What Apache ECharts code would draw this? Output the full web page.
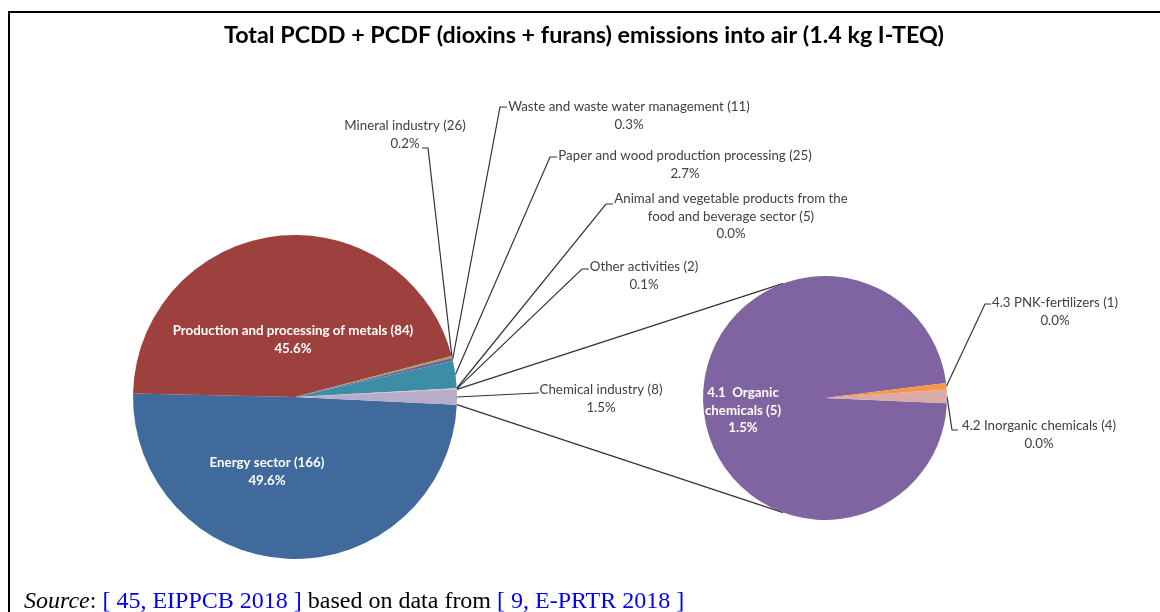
<!DOCTYPE html>
<html>
<head>
<meta charset="utf-8">
<script src="https://cdn.jsdelivr.net/npm/echarts@6/dist/echarts.min.js"></script>
<style>
html, body { margin: 0; padding: 0; background: #fff; }
#chart { width: 1160px; height: 612px; }
</style>
</head>
<body>
<div id="chart"></div>
<script>
// main pie: sectors, number of facilities, share of total emissions (%)
var mainNames = ['Energy sector', 'Production and processing of metals', 'Mineral industry',
	'Waste and waste water management', 'Paper and wood production processing',
	'Animal and vegetable products from the\nfood and beverage sector', 'Other activities', 'Chemical industry'];
var mainCounts = [166, 84, 26, 11, 25, 5, 2, 8];
var mainShares = [49.6, 45.6, 0.2, 0.3, 2.7, 0.02, 0.1, 1.5];

// second pie: split of the chemical industry (share of total emissions, %)
var subNames = ['4.1  Organic\nchemicals', '4.2 Inorganic chemicals', '4.3 PNK-fertilizers'];
var subCounts = [5, 4, 1];
var subShares = [1.46, 0.027, 0.013];

var mainColors = ['#416a9c', '#9e413e', '#8cad4f', '#7a5c9e', '#3b8ea5', '#f79646', '#e6b9b8', '#b8accb'];
var subColors = ['#8064a2', '#d9aaa8', '#f79646'];

// layout (pixels)
var mainC = [295, 397], mainR = 162;
var subC = [825, 398], subR = 122;
var subStart = 7.1;      // degrees, second pie goes counter clockwise
var joinAngle = 110;     // where the connectors meet the second pie
var FONT = 'Lato';
var TXT = '#404040';

// label boxes: x = centre, y = top; elbow/end = leader line bend
var mainLab = [
	{ x: 267, y: 454, inside: true },
	{ x: 293, y: 322, inside: true },
	{ x: 405, y: 117, elbow: [428, 148], end: [422, 148] },
	{ x: 629, y: 98, elbow: [500, 107], end: [507, 107] },
	{ x: 685, y: 147, elbow: [550, 157], end: [557, 157] },
	{ x: 731, y: 190, elbow: [606, 204], end: [613, 204] },
	{ x: 644, y: 258, elbow: [582, 269], end: [589, 269] },
	{ x: 601, y: 381, elbow: [537, 393], end: [539, 393] }
];
var subLab = [
	{ x: 743, y: 384, inside: true },
	{ x: 1039, y: 417, elbow: [952, 430], end: [958, 430] },
	{ x: 1055, y: 294, elbow: [985, 304], end: [991, 304] }
];

function sum(a) { var s = 0; for (var i = 0; i < a.length; i++) s += a[i]; return s; }
var mainTotal = sum(mainShares), subTotal = sum(subShares);
var chemIdx = mainShares.length - 1;
var half = mainShares[chemIdx] / mainTotal * 180;
var mainStart = -half;

// middle angle of slice i (degrees, maths convention)
function midAngle(vals, total, start, i, cw) {
	var before = 0;
	for (var k = 0; k < i; k++) before += vals[k];
	var a = (before + vals[i] / 2) / total * 360;
	return cw ? start - a : start + a;
}
function onCircle(c, r, deg) {
	var t = deg * Math.PI / 180;
	return [c[0] + r * Math.cos(t), c[1] - r * Math.sin(t)];
}

function makeData(names, counts, vals, colors, labs) {
	var out = [];
	for (var i = 0; i < names.length; i++) {
		var item = { name: names[i] + ' (' + counts[i] + ')', value: vals[i], itemStyle: { color: colors[i] } };
		if (labs[i].inside) {
			item.label = { position: 'inside', color: '#fff', fontWeight: 'bold' };
			item.labelLine = { show: false };
		}
		out.push(item);
	}
	return out;
}

function layoutFor(labs, vals, total, start, cw, c, r) {
	return function (params) {
		var L = labs[params.dataIndex];
		var res = { x: L.x, y: L.y, align: 'center', verticalAlign: 'top' };
		if (!L.inside) {
			var p0 = onCircle(c, r, midAngle(vals, total, start, params.dataIndex, cw));
			res.labelLinePoints = [p0, L.elbow, L.end];
		}
		return res;
	};
}

var labelBase = {
	show: true, position: 'outside', color: TXT, fontFamily: FONT, fontSize: 13.3, lineHeight: 17.5,
	formatter: function (p) { return p.name + '\n' + p.value.toFixed(1) + '%'; }
};
var lineBase = { show: true, length: 10, length2: 10, lineStyle: { color: '#333', width: 1.2 } };

var topA = onCircle(mainC, mainR, half), topB = onCircle(subC, subR, joinAngle);
var botA = onCircle(mainC, mainR, -half), botB = onCircle(subC, subR, -joinAngle);

var chart = echarts.init(document.getElementById('chart'), null, { renderer: 'canvas' });
chart.setOption({
	animation: false,
	backgroundColor: '#fff',
	graphic: [
		{ type: 'rect', shape: { x: 9, y: 12, width: 1200, height: 700 }, style: { fill: 'none', stroke: '#000', lineWidth: 2 }, z: 1 },
		{ type: 'text', x: 584, y: 35, style: { text: 'Total PCDD + PCDF (dioxins + furans) emissions into air (1.4 kg I-TEQ)',
			align: 'center', verticalAlign: 'middle', font: 'bold 23.3px Lato', fill: '#000' } },
		{ type: 'line', shape: { x1: topA[0], y1: topA[1], x2: topB[0], y2: topB[1] }, style: { stroke: '#333', lineWidth: 1.2 } },
		{ type: 'line', shape: { x1: botA[0], y1: botA[1], x2: botB[0], y2: botB[1] }, style: { stroke: '#333', lineWidth: 1.2 } },
		{ type: 'text', x: 24, y: 602, style: {
			text: '{i|Source}: {b|[ 45, EIPPCB 2018 ]} based on data from {b|[ 9, E-PRTR 2018 ]}',
			verticalAlign: 'middle', font: '24px "Liberation Serif"', fill: '#000',
			rich: {
				i: { fontStyle: 'italic', fontFamily: 'Liberation Serif', fontSize: 24, fill: '#000' },
				b: { fontFamily: 'Liberation Serif', fontSize: 24, fill: '#0000ee' }
			}
		} }
	],
	series: [
		{
			type: 'pie', center: mainC, radius: mainR, startAngle: mainStart, clockwise: true,
			avoidLabelOverlap: false, itemStyle: { borderWidth: 0 },
			label: labelBase, labelLine: lineBase,
			labelLayout: layoutFor(mainLab, mainShares, mainTotal, mainStart, true, mainC, mainR),
			data: makeData(mainNames, mainCounts, mainShares, mainColors, mainLab)
		},
		{
			type: 'pie', center: subC, radius: subR, startAngle: subStart, clockwise: false,
			avoidLabelOverlap: false, itemStyle: { borderWidth: 0 },
			label: labelBase, labelLine: lineBase,
			labelLayout: layoutFor(subLab, subShares, subTotal, subStart, false, subC, subR),
			data: makeData(subNames, subCounts, subShares, subColors, subLab)
		}
	]
});
</script>
</body>
</html>
